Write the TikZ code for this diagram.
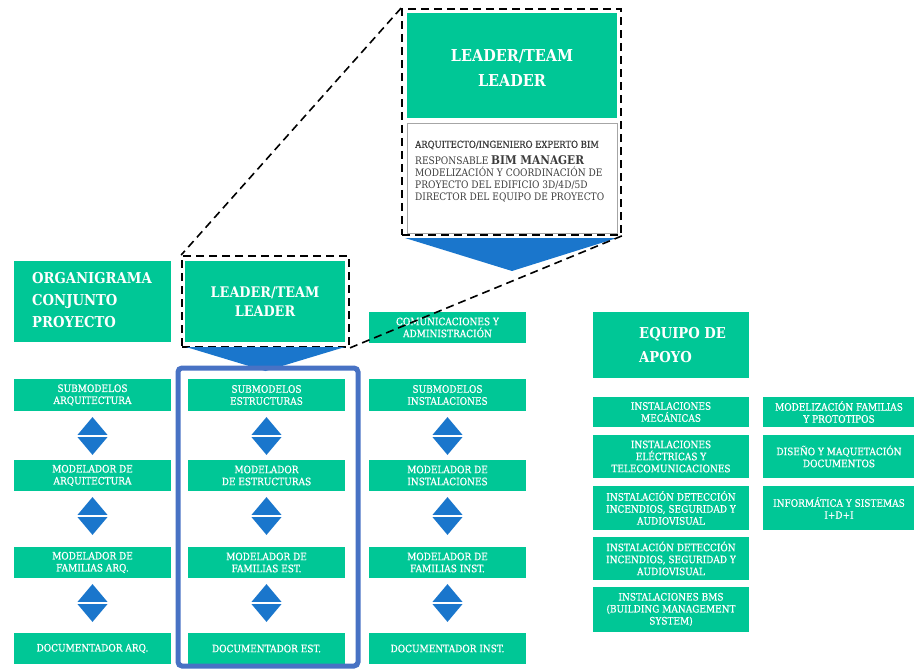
\documentclass[tikz,border=0pt]{standalone}
\usepackage{fontspec}
\setmainfont{DejaVu Serif}[FakeStretch=0.88]
\newfontfamily\boxfont{DejaVu Serif}[FakeStretch=0.88, FakeBold=0.6]
\usetikzlibrary{shapes.geometric}
\definecolor{boxgreen}{RGB}{0,199,150}
\definecolor{arrowblue}{RGB}{26,118,204}
\definecolor{frameblue}{RGB}{72,114,196}
\definecolor{notegray}{RGB}{60,60,60}
\tikzset{
  box/.style={fill=boxgreen, text=white, align=center, inner sep=0pt,
    font=\boxfont\fontsize{10.2}{12}\selectfont},
  rowbox/.style={box, minimum width=157pt, minimum height=31pt},
  sidebox/.style={box, minimum width=156pt},
  farbox/.style={box, minimum width=152pt},
  bigtitle/.style={text=white, align=left, inner sep=0pt,
    font=\bfseries\fontsize{15}{22}\selectfont},
  diam/.style={diamond, fill=arrowblue, inner sep=0pt, minimum width=32pt,
    minimum height=38pt},
  zoomline/.style={black, line width=1.6pt, dash pattern=on 8pt off 5pt},
}
% a double arrow: blue diamond split by a thin white bar
\newcommand\updown[2]{%
  \node[diam] (#1) at (#2) {};
  \draw[white, line width=2.5pt] ([xshift=-17pt]#1.center) -- ([xshift=17pt]#1.center);}
\begin{document}
\begin{tikzpicture}[x=1pt, y=-1pt]
\useasboundingbox (0,0) rectangle (914,669);

% ---- enlarged team leader card ----
\node[draw=black, line width=1.8pt, dash pattern=on 8pt off 5pt,
      minimum width=219pt, minimum height=226pt, inner sep=0pt] (zoomA) at (511.5,122) {};
\node[box, minimum width=210pt, minimum height=105pt] (leadA) at (512,65.5) {};
\node[text=white, align=center, inner sep=0pt,
      font=\bfseries\fontsize{16.4}{25}\selectfont] (leadAT) at (512,68) {LEADER/TEAM\\LEADER};
\node[draw=gray!70, fill=white, line width=0.8pt, minimum width=210pt,
      minimum height=110pt, inner sep=0pt] (noteA) at (512,178) {};
\node[anchor=west, inner sep=0pt, text=notegray,
      font=\boxfont\fontsize{9.6}{10}\selectfont] (noteT) at (415,145)
      {ARQUITECTO/INGENIERO EXPERTO BIM};
\node[anchor=north west, inner sep=0pt, text=notegray, align=left,
      font=\fontsize{10.3}{12}\selectfont] (noteB) at (415,155)
      {RESPONSABLE {\bfseries\fontsize{12}{12}\selectfont BIM MANAGER}\\
       MODELIZACIÓN Y COORDINACIÓN DE\\
       PROYECTO DEL EDIFICIO 3D/4D/5D\\
       DIRECTOR DEL EQUIPO DE PROYECTO};
\fill[arrowblue] (405,238) -- (617,238) -- (512,271) -- cycle;

% ---- header row ----
\node[box, minimum width=157pt, minimum height=81pt] (orga) at (92.5,301.5) {};
\node[bigtitle, anchor=west] (orgaT) at (32,300)
  {ORGANIGRAMA\\CONJUNTO\\PROYECTO};
\node[draw=black, line width=1.8pt, dash pattern=on 8pt off 5pt,
      minimum width=167pt, minimum height=91pt, inner sep=0pt] (zoomB) at (265.5,301.5) {};
\node[box, minimum width=160pt, minimum height=81pt,
      font=\bfseries\fontsize{14.6}{19}\selectfont] (leadB) at (265,301.5) {LEADER/TEAM\\LEADER};
\node[rowbox] (comu) at (447.5,327.5) {COMUNICACIONES Y\\ADMINISTRACIÓN};

% dashed guides from the small card to its enlargement
\draw[zoomline] (zoomA.north west) -- (zoomB.north west);
\draw[zoomline] (zoomA.south east) -- (zoomB.south east);

% blue pointer below the small leader card
\fill[arrowblue] (186,347) -- (345,347) -- (265.5,371) -- cycle;

% ---- column: architecture ----
\node[rowbox, minimum height=32pt] (arqA) at (92.5,395) {SUBMODELOS\\ARQUITECTURA};
\node[rowbox] (arqB) at (92.5,475.5) {MODELADOR DE\\ARQUITECTURA};
\node[rowbox] (arqC) at (92.5,562.5) {MODELADOR DE\\FAMILIAS ARQ.};
\node[rowbox] (arqD) at (92.5,648.5) {DOCUMENTADOR ARQ.};
\updown{arqAB}{92.5,436}
\updown{arqBC}{92.5,516}
\updown{arqCD}{92.5,603}

% ---- column: structures ----
\node[rowbox, minimum height=32pt] (estA) at (266.5,395) {SUBMODELOS\\ESTRUCTURAS};
\node[rowbox] (estB) at (266.5,475.5) {MODELADOR\\DE ESTRUCTURAS};
\node[rowbox] (estC) at (266.5,562.5) {MODELADOR DE\\FAMILIAS EST.};
\node[rowbox] (estD) at (266.5,648.5) {DOCUMENTADOR EST.};
\updown{estAB}{266.5,436}
\updown{estBC}{266.5,516}
\updown{estCD}{266.5,603}
\draw[frameblue, line width=5pt, rounded corners=4pt] (178,368) rectangle (358,666);

% ---- column: installations ----
\node[rowbox, minimum height=32pt] (insA) at (447.5,395) {SUBMODELOS\\INSTALACIONES};
\node[rowbox] (insB) at (447.5,475.5) {MODELADOR DE\\INSTALACIONES};
\node[rowbox] (insC) at (447.5,562.5) {MODELADOR DE\\FAMILIAS INST.};
\node[rowbox] (insD) at (447.5,648.5) {DOCUMENTADOR INST.};
\updown{insAB}{447.5,436}
\updown{insBC}{447.5,516}
\updown{insCD}{447.5,603}

% ---- support team ----
\node[box, minimum width=156pt, minimum height=66pt] (apoyo) at (671,345) {};
\node[bigtitle, anchor=west, font=\bfseries\fontsize{15}{24}\selectfont] (apoyoT) at (639,345)
  {EQUIPO DE\\APOYO};
\node[sidebox, minimum height=30pt] (sA) at (671,412) {INSTALACIONES\\MECÁNICAS};
\node[sidebox, minimum height=43pt] (sB) at (671,456.5) {INSTALACIONES\\ELÉCTRICAS Y\\TELECOMUNICACIONES};
\node[sidebox, minimum height=44pt] (sC) at (671,508) {INSTALACIÓN DETECCIÓN\\INCENDIOS, SEGURIDAD Y\\AUDIOVISUAL};
\node[sidebox, minimum height=43pt] (sD) at (671,558.5) {INSTALACIÓN DETECCIÓN\\INCENDIOS, SEGURIDAD Y\\AUDIOVISUAL};
\node[sidebox, minimum height=45pt] (sE) at (671,609.5) {INSTALACIONES BMS\\(BUILDING MANAGEMENT\\SYSTEM)};
\node[farbox, minimum height=30pt] (fA) at (839,412) {MODELIZACIÓN FAMILIAS\\Y PROTOTIPOS};
\node[farbox, minimum height=43pt] (fB) at (839,456.5) {DISEÑO Y MAQUETACIÓN\\DOCUMENTOS};
\node[farbox, minimum height=44pt] (fC) at (839,508) {INFORMÁTICA Y SISTEMAS\\I+D+I};
\end{tikzpicture}
\end{document}
